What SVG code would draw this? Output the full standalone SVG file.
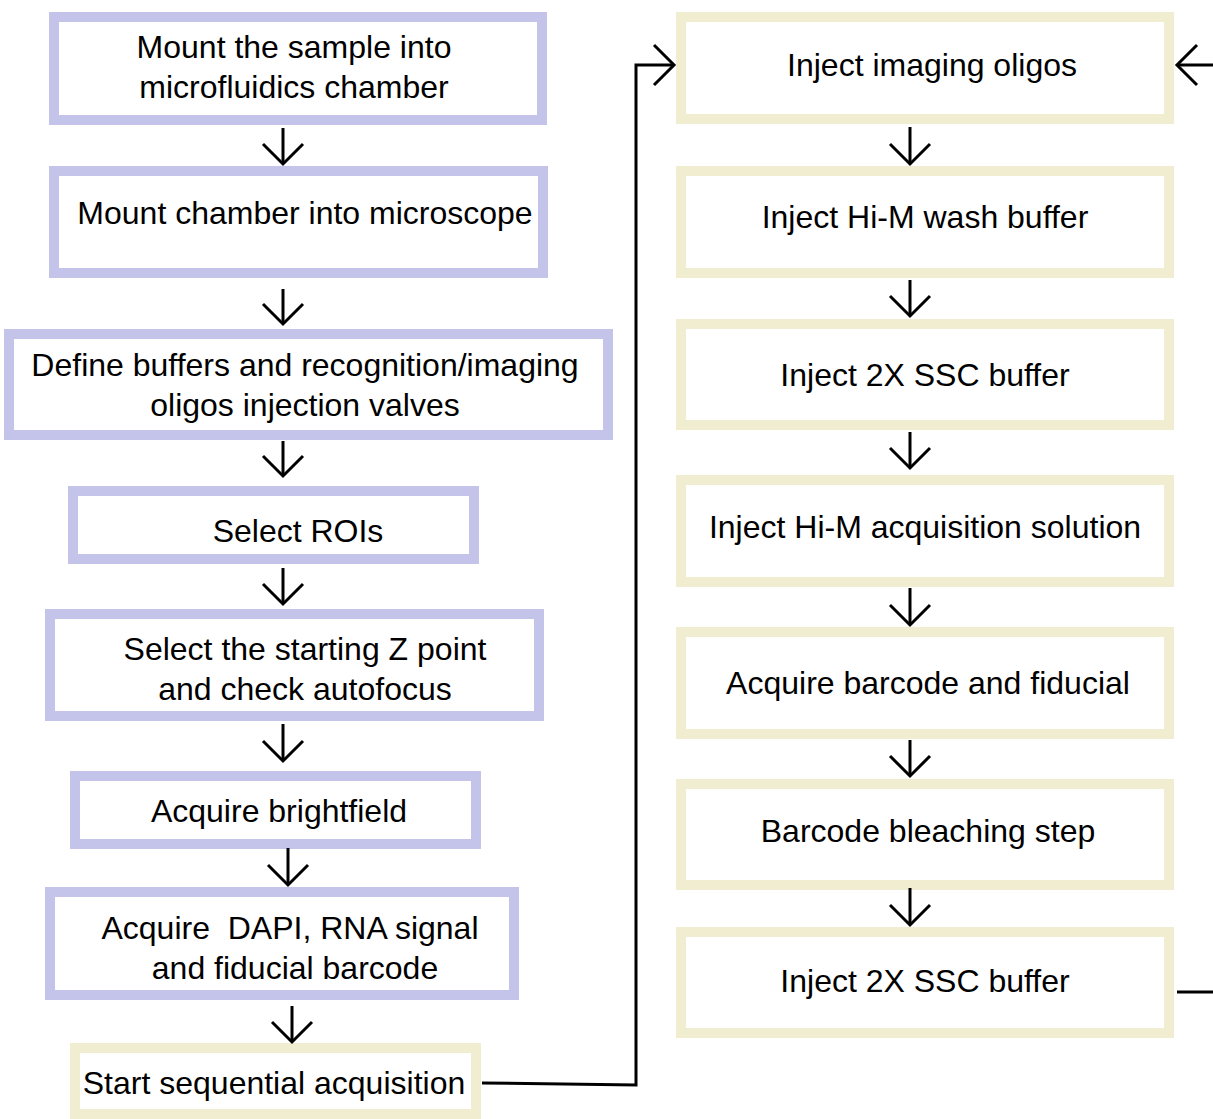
<svg xmlns="http://www.w3.org/2000/svg" width="1213" height="1119" viewBox="0 0 1213 1119">
<defs>
<style>
.l{fill:#fff;stroke:#c4c3e9;stroke-width:10}
.r{fill:#fff;stroke:#f1edd0;stroke-width:10}
text{font-family:"Liberation Sans",Arial,sans-serif;font-size:32px;fill:#000;text-anchor:middle}
.c{fill:none;stroke:#000;stroke-width:3}
</style>
<marker id="ah" markerUnits="userSpaceOnUse" markerWidth="50" markerHeight="50" refX="0" refY="0" orient="auto" overflow="visible">
<path d="M-20,-20 L0,0 L-20,20" fill="none" stroke="#000" stroke-width="3"/>
</marker>
</defs>
<rect width="1213" height="1119" fill="#fff"/>
<g id="n1"><rect class="l" x="54" y="17" width="488" height="103"/><text x="294" y="58">Mount the sample into</text><text x="294" y="98">microfluidics chamber</text></g>
<g id="n2"><rect class="l" x="54" y="171" width="489" height="102"/><text x="305" y="224">Mount chamber into microscope</text></g>
<g id="n3"><rect class="l" x="9" y="334" width="599" height="101"/><text x="305" y="376">Define buffers and recognition/imaging</text><text x="305" y="416">oligos injection valves</text></g>
<g id="n4"><rect class="l" x="73" y="491" width="401" height="68"/><text x="298" y="542">Select ROIs</text></g>
<g id="n5"><rect class="l" x="50" y="614" width="489" height="102"/><text x="305" y="660">Select the starting Z point</text><text x="305" y="700">and check autofocus</text></g>
<g id="n6"><rect class="l" x="75" y="776" width="401" height="68"/><text x="279" y="822">Acquire brightfield</text></g>
<g id="n7"><rect class="l" x="50" y="892" width="464" height="103"/><text x="290" y="939" xml:space="preserve">Acquire  DAPI, RNA signal</text><text x="295" y="979">and fiducial barcode</text></g>
<g id="n8"><rect class="r" x="75" y="1048" width="401" height="66"/><text x="274" y="1094">Start sequential acquisition</text></g>
<g id="n9"><rect class="r" x="681" y="17" width="488" height="102"/><text x="932" y="76">Inject imaging oligos</text></g>
<g id="n10"><rect class="r" x="681" y="171" width="488" height="102"/><text x="925" y="228">Inject Hi-M wash buffer</text></g>
<g id="n11"><rect class="r" x="681" y="324" width="488" height="101"/><text x="925" y="386">Inject 2X SSC buffer</text></g>
<g id="n12"><rect class="r" x="681" y="480" width="488" height="102"/><text x="925" y="538">Inject Hi-M acquisition solution</text></g>
<g id="n13"><rect class="r" x="681" y="632" width="488" height="102"/><text x="928" y="694">Acquire barcode and fiducial</text></g>
<g id="n14"><rect class="r" x="681" y="784" width="488" height="101"/><text x="928" y="842">Barcode bleaching step</text></g>
<g id="n15"><rect class="r" x="681" y="932" width="488" height="101"/><text x="925" y="992">Inject 2X SSC buffer</text></g>
<g id="connectors">
<path class="c" marker-end="url(#ah)" d="M283,128 L283,164"/>
<path class="c" marker-end="url(#ah)" d="M283,289 L283,324"/>
<path class="c" marker-end="url(#ah)" d="M283,441 L283,476"/>
<path class="c" marker-end="url(#ah)" d="M283,568 L283,604"/>
<path class="c" marker-end="url(#ah)" d="M283,724 L283,761"/>
<path class="c" marker-end="url(#ah)" d="M288,848 L288,885"/>
<path class="c" marker-end="url(#ah)" d="M292,1006 L292,1042"/>
<path class="c" marker-end="url(#ah)" d="M910,127 L910,164"/>
<path class="c" marker-end="url(#ah)" d="M910,280 L910,316"/>
<path class="c" marker-end="url(#ah)" d="M910,432 L910,468"/>
<path class="c" marker-end="url(#ah)" d="M910,588 L910,625"/>
<path class="c" marker-end="url(#ah)" d="M910,740 L910,776"/>
<path class="c" marker-end="url(#ah)" d="M910,888 L910,925"/>
<path class="c" marker-end="url(#ah)" d="M482,1083 L636,1085 L636,65 L674,65"/>
<path class="c" marker-end="url(#ah)" d="M1215,65 L1177,65"/>
<path class="c" d="M1177,992 L1215,992"/>
</g>
</svg>
